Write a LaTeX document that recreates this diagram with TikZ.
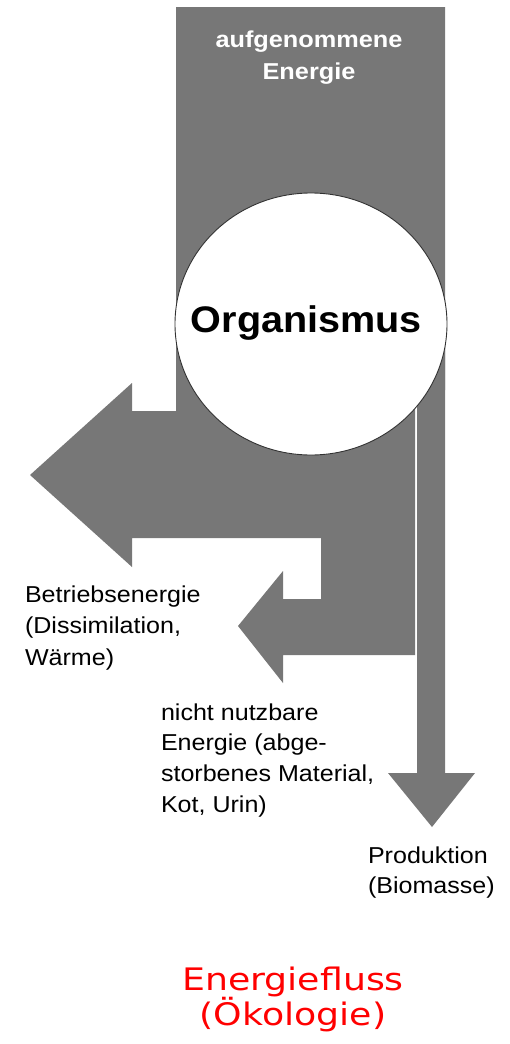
\documentclass[tikz,border=0pt]{standalone}
\usepackage{fontspec}
\setmainfont{Liberation Sans}
\newfontfamily\efLab[FakeStretch=1.09]{Liberation Sans}
\newfontfamily\efHead[FakeStretch=1.1]{Liberation Sans}
\newfontfamily\efOrg[FakeStretch=1.07]{Liberation Sans}
\newfontfamily\efTitle[FakeStretch=1.17]{DejaVu Sans}
\usetikzlibrary{shapes.geometric}
\definecolor{flowgray}{RGB}{119,119,119}
\definecolor{titlered}{RGB}{255,0,0}
\definecolor{rimgray}{RGB}{50,50,50}
\begin{document}
\begin{tikzpicture}[x=1pt,y=-1pt,
  flow/.style={fill=flowgray},
  organ/.style={ellipse, draw=rimgray, line width=0.9pt, fill=white,
    minimum width=272pt, minimum height=262pt, inner sep=0pt},
  txt/.style={inner sep=0pt, outer sep=0pt}]
\useasboundingbox (0,0) rectangle (509,1044);
% main flow: intake column with the two left branches
\fill[flow] (176,7) -- (445,7) -- (445,390) -- (415,390) -- (415,655)
  -- (283,655) -- (283,683) -- (238,626) -- (283,571) -- (283,599)
  -- (321,599) -- (321,538) -- (132,538) -- (132,567) -- (30,475)
  -- (132,383) -- (132,411) -- (176,411) -- cycle;
% production arrow
\fill[flow] (417,300) -- (445,300) -- (445,773) -- (475,773) -- (432,827)
  -- (388,773) -- (417,773) -- cycle;
% organism
\node[organ] (org) at (311,324) {};
\node[txt, anchor=base] (orgtext) at (306.5,332)
  {\efOrg\bfseries\fontsize{37}{40}\selectfont Organismus};
% intake label
\node[txt, anchor=base, text=white] (intake) at (309,47)
  {\efHead\bfseries\fontsize{23}{32}\selectfont
   \vtop{\hbox to 0pt{\hss aufgenommene\hss}\hbox to 0pt{\hss Energie\hss}}};
% output labels
\node[txt, anchor=base west] (betrieb) at (25,602)
  {\efLab\fontsize{23}{31.5}\selectfont
   \vtop{\hbox{Betriebsenergie}\hbox{(Dissimilation,}\hbox{Wärme)}}};
\node[txt, anchor=base west] (nutzbar) at (161,720)
  {\efLab\fontsize{23}{30.7}\selectfont
   \vtop{\hbox{nicht nutzbare}\hbox{Energie (abge-}\hbox{storbenes Material,}\hbox{Kot, Urin)}}};
\node[txt, anchor=base west] (produktion) at (368,863)
  {\efLab\fontsize{23}{30}\selectfont
   \vtop{\hbox{Produktion}\hbox{(Biomasse)}}};
% title
\node[txt, anchor=base, text=titlered] (title) at (293,990)
  {\efTitle\fontsize{31}{35}\selectfont
   \vtop{\hbox to 0pt{\hss Energiefluss\hss}\hbox to 0pt{\hss (Ökologie)\hss}}};
\end{tikzpicture}
\end{document}
